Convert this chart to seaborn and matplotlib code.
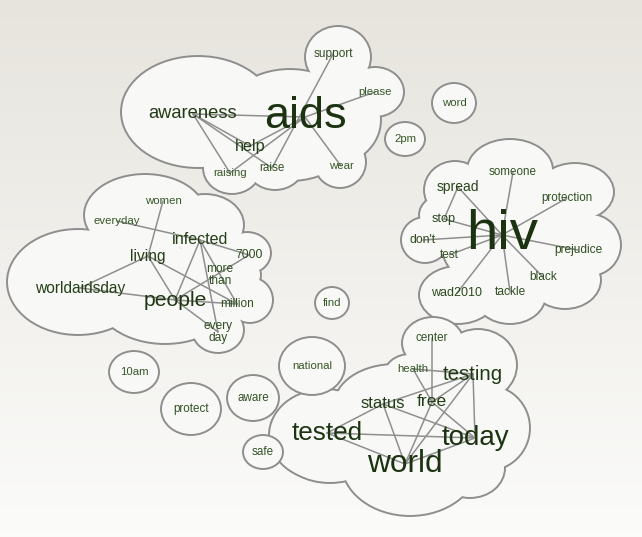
import numpy as np
import pandas as pd
import matplotlib.pyplot as plt
import seaborn as sns
from matplotlib.patches import Ellipse

# words of the tweet clouds: count (drives font size) and position in pixels
words = ["aids", "awareness", "help", "support", "please", "raising", "raise", "wear",
         "hiv", "someone", "spread", "protection", "stop", "don't", "test", "prejudice",
         "black", "wad2010", "tackle",
         "women", "everyday", "infected", "living", "7000", "more\nthan", "worldaidsday",
         "people", "million", "every\nday",
         "center", "health", "testing", "status", "free", "tested", "today", "world",
         "word", "2pm", "find", "10am", "national", "protect", "aware", "safe"]
counts = [124, 28, 20, 5, 3, 3, 4, 3,
          165, 4, 12, 4, 8, 6, 4, 5,
          5, 7, 5,
          3, 3, 20, 18, 6, 5, 18,
          38, 5, 5,
          4, 3, 36, 22, 25, 56, 62, 76,
          3, 3, 3, 3, 3, 4, 4, 4]
word_x = [305, 193, 250, 333, 375, 230, 272, 341,
          502, 513, 458, 567, 444, 423, 449, 578,
          543, 457, 510,
          163, 117, 200, 148, 249, 220, 80,
          175, 237, 218,
          432, 413, 473, 383, 432, 327, 475, 405,
          454, 405, 332, 134, 312, 191, 253, 263]
word_y = [117, 114, 146, 54, 92, 173, 168, 166,
          235, 172, 187, 198, 219, 240, 255, 250,
          277, 293, 292,
          201, 221, 240, 256, 255, 275, 288,
          300, 304, 332,
          338, 369, 374, 404, 402, 433, 438, 464,
          103, 139, 303, 372, 366, 409, 398, 452]

# co-occurrence links
edges = [("awareness", "aids"), ("awareness", "raising"), ("awareness", "raise"),
         ("awareness", "help"), ("aids", "please"), ("aids", "wear"), ("aids", "raising"),
         ("aids", "help"), ("support", "raise"),
         ("spread", "hiv"), ("spread", "stop"), ("stop", "hiv"), ("don't", "hiv"),
         ("test", "hiv"), ("someone", "hiv"), ("protection", "hiv"), ("prejudice", "hiv"),
         ("black", "hiv"), ("tackle", "hiv"), ("wad2010", "hiv"),
         ("women", "living"), ("everyday", "infected"), ("infected", "7000"),
         ("living", "worldaidsday"), ("worldaidsday", "people"), ("living", "people"),
         ("living", "million"), ("infected", "people"), ("infected", "every\nday"),
         ("infected", "million"), ("people", "7000"), ("people", "million"),
         ("people", "every\nday"),
         ("center", "free"), ("health", "testing"), ("health", "free"),
         ("testing", "status"), ("testing", "free"), ("testing", "world"),
         ("testing", "today"), ("status", "tested"), ("status", "world"),
         ("status", "today"), ("tested", "today"), ("tested", "world"),
         ("world", "today"), ("free", "world"), ("free", "today")]

# cloud outlines: lobes as (cx, cy, rx, ry)
clouds = [
    [(198, 112, 76, 55), (290, 125, 70, 55), (338, 57, 32, 30), (375, 92, 28, 24),
     (340, 162, 25, 25), (232, 168, 28, 25), (275, 165, 28, 24), (330, 120, 50, 45)],
    [(510, 170, 42, 30), (455, 190, 30, 28), (575, 192, 38, 28), (590, 245, 30, 30),
     (565, 280, 35, 28), (510, 295, 35, 28), (458, 295, 38, 28), (425, 240, 23, 22),
     (515, 235, 75, 65), (445, 215, 25, 20)],
    [(78, 282, 70, 52), (145, 215, 60, 40), (205, 225, 38, 30), (247, 253, 23, 20),
     (250, 300, 22, 22), (218, 330, 25, 22), (165, 295, 70, 48), (235, 275, 25, 20),
     (222, 258, 28, 24)],
    [(433, 343, 30, 25), (478, 365, 38, 35), (325, 435, 55, 45), (410, 462, 68, 53),
     (487, 428, 42, 42), (395, 405, 60, 40), (410, 375, 25, 20), (330, 455, 45, 27),
     (445, 380, 38, 32), (458, 408, 40, 32), (470, 468, 34, 29)],
]
# lone words sit in their own bubble
singles = {"word": (21, 19), "2pm": (19, 16), "find": (16, 15), "10am": (24, 20),
           "national": (32, 28), "protect": (29, 25), "aware": (25, 22), "safe": (19, 16)}

nodes = pd.DataFrame({"word": words, "count": counts, "x": word_x, "y": word_y}).set_index("word")

sns.set_style("white")
fig = plt.figure(figsize=(6.42, 5.37), dpi=100)
ax = fig.add_axes([0, 0, 1, 1])

# soft beige-to-white background
grad = np.linspace(0, 1, 256)[:, None]
top = np.array([0.905, 0.895, 0.868])
bot = np.array([0.985, 0.985, 0.98])
bg = top + (bot - top) * grad[..., None]
ax.imshow(np.repeat(bg, 2, axis=1), extent=(0, 642, 537, 0), aspect="auto", zorder=0)

fill = "#f8f8f6"
edge_col = "#8e8e8e"


def draw_blob(lobes, z):
    # outline every lobe, then paint the fills over so only the outer rim shows
    for cx, cy, rx, ry in lobes:
        ax.add_patch(Ellipse((cx, cy), 2 * rx, 2 * ry, facecolor="none",
                             edgecolor=edge_col, lw=2.8, zorder=z))
    for cx, cy, rx, ry in lobes:
        ax.add_patch(Ellipse((cx, cy), 2 * rx, 2 * ry, facecolor=fill,
                             edgecolor="none", zorder=z + 0.5))


z = 1
for lobes in clouds:
    draw_blob(lobes, z)
    z += 1
for w, (rx, ry) in singles.items():
    draw_blob([(nodes.loc[w, "x"], nodes.loc[w, "y"], rx, ry)], z)
    z += 1

# links
rows = []
for i, (a, b) in enumerate(edges):
    rows.append({"edge": i, "x": nodes.loc[a, "x"], "y": nodes.loc[a, "y"]})
    rows.append({"edge": i, "x": nodes.loc[b, "x"], "y": nodes.loc[b, "y"]})
edge_df = pd.DataFrame(rows)
sns.lineplot(data=edge_df, x="x", y="y", units="edge", estimator=None, sort=False,
             color="#8f8f8f", lw=1.1, zorder=50, ax=ax)

# words, bigger = darker
greens = sns.blend_palette(["#4e7440", "#2c4a1d", "#1b3310"], as_cmap=True)
for w, row in nodes.iterrows():
    fs = 7.6 + row["count"] * 0.2
    c = greens(min(1.0, np.log1p(row["count"]) / np.log1p(60)))
    ax.text(row["x"], row["y"], w, ha="center", va="center", fontsize=fs,
            color=c, family="Liberation Sans", linespacing=0.95, zorder=60)

ax.set_xlim(0, 642)
ax.set_ylim(537, 0)
ax.axis("off")
fig.savefig("out.png", dpi=100)
